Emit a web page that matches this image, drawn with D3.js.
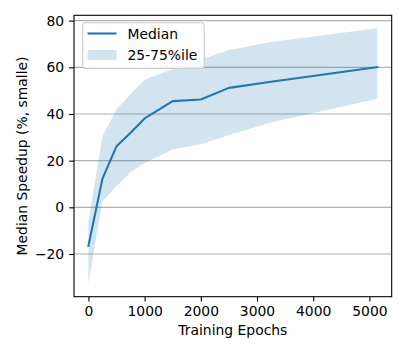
<!DOCTYPE html>
<html lang="en">
<head>
<meta charset="utf-8">
<script src="https://d3js.org/d3.v7.min.js"></script>
<style>
  body { margin: 0; background: #fff; }
  text { font-family: "DejaVu Sans", sans-serif; fill: #000; }
</style>
</head>
<body>
<div id="chart"></div>
<script>
// data
var epochs = [0, 250, 500, 750, 1000, 1500, 2000, 2500, 3250, 5140];
var median = [-16.5, 12.3, 26.2, 32, 38.1, 45.5, 46.2, 51.2, 53.8, 60.1];
var lower  = [-32.5, 2.7, 9, 15, 19, 24.8, 27, 31, 36.4, 46.5];
var upper  = [-6, 30.5, 42, 48.5, 54.8, 59.2, 63.3, 67.4, 70.9, 76.7];
var xTicks = [0, 1000, 2000, 3000, 4000, 5000];
var yTicks = [-20, 0, 20, 40, 60, 80];

var width = 407, height = 356;
var margin = {left: 74, top: 15.3, right: 407 - 391.7, bottom: 356 - 296.7};
var fs = 13.9;

var svg = d3.select("#chart").append("svg")
    .attr("width", width)
    .attr("height", height);

var x = d3.scaleLinear().domain([-257, 5397]).range([margin.left, width - margin.right]);
var y = d3.scaleLinear().domain([-38.3, 82.3]).range([height - margin.bottom, margin.top]);

// grid
svg.append("g").selectAll("line")
    .data(yTicks)
    .enter().append("line")
    .attr("x1", x.range()[0]).attr("x2", x.range()[1])
    .attr("y1", function(d) { return y(d); })
    .attr("y2", function(d) { return y(d); })
    .attr("stroke", "#b0b0b0")
    .attr("stroke-width", 1.1);

var rows = epochs.map(function(e, i) {
    return {x: e, m: median[i], lo: lower[i], hi: upper[i]};
});

svg.append("path")
    .datum(rows)
    .attr("d", d3.area()
        .x(function(d) { return x(d.x); })
        .y0(function(d) { return y(d.lo); })
        .y1(function(d) { return y(d.hi); }))
    .attr("fill", "#1f77b4")
    .attr("fill-opacity", 0.2);

svg.append("path")
    .datum(rows)
    .attr("d", d3.line()
        .x(function(d) { return x(d.x); })
        .y(function(d) { return y(d.m); }))
    .attr("fill", "none")
    .attr("stroke", "#1f77b4")
    .attr("stroke-width", 2.1)
    .attr("stroke-linejoin", "round")
    .attr("stroke-linecap", "square");

// axes
var xAxis = svg.append("g")
    .attr("transform", "translate(0," + y.range()[0] + ")")
    .call(d3.axisBottom(x).tickValues(xTicks).tickSize(4.9).tickPadding(4.9).tickFormat(d3.format("d")));
var yAxis = svg.append("g")
    .attr("transform", "translate(" + x.range()[0] + ",0)")
    .call(d3.axisLeft(y).tickValues(yTicks).tickSize(4.9).tickPadding(4.9)
        .tickFormat(function(d) { return d < 0 ? "\u2212" + Math.abs(d) : d; }));

[xAxis, yAxis].forEach(function(a) {
    a.select(".domain").remove();
    a.selectAll("line").attr("stroke", "#000").attr("stroke-width", 1.1);
    a.selectAll("text").attr("font-size", fs).attr("font-family", "DejaVu Sans").attr("fill", "#000");
});

// frame
svg.append("rect")
    .attr("x", x.range()[0]).attr("y", y.range()[1])
    .attr("width", x.range()[1] - x.range()[0])
    .attr("height", y.range()[0] - y.range()[1])
    .attr("fill", "none")
    .attr("stroke", "#000")
    .attr("stroke-width", 1.1);

// labels
svg.append("text")
    .attr("x", (x.range()[0] + x.range()[1]) / 2)
    .attr("y", 335)
    .attr("text-anchor", "middle")
    .attr("font-size", fs)
    .text("Training Epochs");

svg.append("text")
    .attr("transform", "translate(27," + (y.range()[0] + y.range()[1]) / 2 + ") rotate(-90)")
    .attr("text-anchor", "middle")
    .attr("font-size", fs)
    .text("Median Speedup (%, smalle)");

// legend
var lg = svg.append("g");
lg.append("rect")
    .attr("x", 82.7).attr("y", 22.7)
    .attr("width", 121.5).attr("height", 45.8)
    .attr("rx", 2.8)
    .attr("fill", "#fff").attr("fill-opacity", 0.8)
    .attr("stroke", "#cccccc").attr("stroke-width", 1.1);
lg.append("line")
    .attr("x1", 87.5).attr("x2", 116.5)
    .attr("y1", 33.5).attr("y2", 33.5)
    .attr("stroke", "#1f77b4").attr("stroke-width", 2.1);
lg.append("rect")
    .attr("x", 87.5).attr("y", 50)
    .attr("width", 29).attr("height", 10)
    .attr("fill", "#1f77b4").attr("fill-opacity", 0.2);
lg.append("text").attr("x", 127.5).attr("y", 38.5).attr("font-size", fs).text("Median");
lg.append("text").attr("x", 127.5).attr("y", 60).attr("font-size", fs).text("25-75%ile");
</script>
</body>
</html>
